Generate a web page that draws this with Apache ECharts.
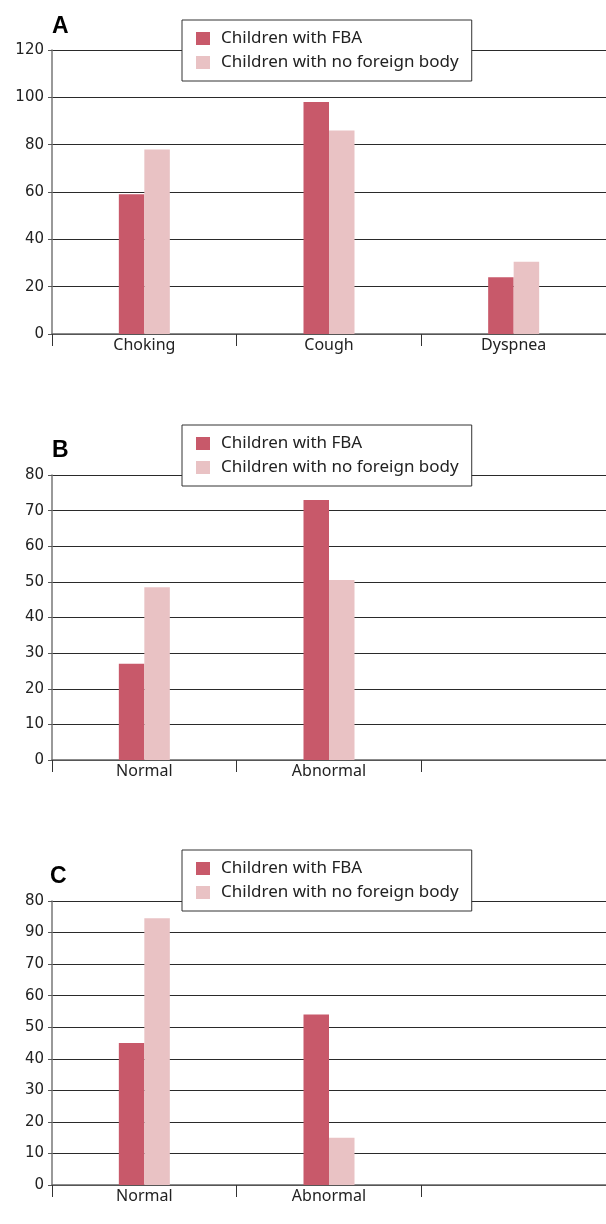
<!DOCTYPE html>
<html>
<head>
<meta charset="utf-8">
<script src="https://cdn.jsdelivr.net/npm/echarts@6/dist/echarts.min.js"></script>
<style>
html,body{margin:0;padding:0;background:#fff;}
#chart{width:606px;height:1224px;}
</style>
</head>
<body>
<div id="chart"></div>
<script>
// ---- Data ----
const seriesNames = ['Children with FBA', 'Children with no foreign body'];
const panelTitles = ['A', 'B', 'C'];

const categoriesA = ['Choking', 'Cough', 'Dyspnea'];
const fbaA = [59, 98, 24];
const noFbA = [78, 86, 30.5];
const tickLabelsA = ['0', '20', '40', '60', '80', '100', '120'];

const categoriesB = ['Normal', 'Abnormal', ''];
const fbaB = [27, 73, null];
const noFbB = [48.5, 50.5, null];
const tickLabelsB = ['0', '10', '20', '30', '40', '50', '60', '70', '80'];

const categoriesC = ['Normal', 'Abnormal', ''];
const fbaC = [45, 54, null];
const noFbC = [84.5, 15, null];
const tickLabelsC = ['0', '10', '20', '30', '40', '50', '60', '70', '90', '80'];

// ---- Styling / layout ----
const colFBA = '#C8596A';
const colNo = '#E9C2C4';

const panels = [
  {cats: categoriesA, fba: fbaA, no: noFbA, ticks: tickLabelsA, max: 120, interval: 20, top: 50, height: 284, legendTop: 20, legendLeft: 182, titleY: 27},
  {cats: categoriesB, fba: fbaB, no: noFbB, ticks: tickLabelsB, max: 80, interval: 10, top: 475, height: 285, legendTop: 425, legendLeft: 182, titleY: 451},
  {cats: categoriesC, fba: fbaC, no: noFbC, ticks: tickLabelsC, max: 90, interval: 10, top: 901, height: 284, legendTop: 850, legendLeft: 182, titleY: 877}
];

const grid = [], xAxis = [], yAxis = [], series = [], legend = [], graphic = [];
panels.forEach((p, i) => {
  grid.push({left: 52, right: 0, top: p.top, height: p.height, containLabel: false});
  xAxis.push({
    type: 'category', gridIndex: i, data: p.cats,
    axisLine: {lineStyle: {color: '#666', width: 1.5}},
    axisTick: {show: true, length: 12, alignWithLabel: false, lineStyle: {color: '#333', width: 1}},
    axisLabel: {fontFamily: 'Noto Sans', fontSize: 16, color: '#222', margin: 3, interval: 0}
  });
  yAxis.push({
    type: 'value', gridIndex: i, min: 0, max: p.max, interval: p.interval,
    axisLine: {show: true, lineStyle: {color: '#777', width: 1.5}},
    axisTick: {show: true, length: 4, lineStyle: {color: '#555'}},
    splitLine: {show: true, lineStyle: {color: '#2a2a2a', width: 1}},
    axisLabel: {
      fontFamily: 'DejaVu Sans', fontSize: 15, color: '#222', margin: 8,
      formatter: (v) => p.ticks[Math.round(v / p.interval)]
    }
  });
  series.push({
    name: seriesNames[0], type: 'bar', xAxisIndex: i, yAxisIndex: i,
    data: p.fba, barWidth: 25.5, barGap: '0%', itemStyle: {color: colFBA}
  });
  series.push({
    name: seriesNames[1], type: 'bar', xAxisIndex: i, yAxisIndex: i,
    data: p.no, barWidth: 25.5, barGap: '0%', itemStyle: {color: colNo}
  });
  legend.push({
    orient: 'vertical', left: p.legendLeft, top: p.legendTop,
    padding: [9.5, 13, 9.5, 14],
    itemWidth: 14, itemHeight: 13, itemGap: 6, icon: 'rect',
    borderColor: '#333', borderWidth: 1, backgroundColor: '#fff',
    selectedMode: false, z: 10,
    textStyle: {fontFamily: 'Noto Sans', fontSize: 17, color: '#222', lineHeight: 16, padding: [2, 0, 0, 6]},
    data: seriesNames
  });
  graphic.push({
    type: 'text', left: i === 2 ? 50 : 52, top: p.titleY - 12, z: 20,
    style: {text: panelTitles[i], font: 'bold 23px "Liberation Sans", Arial, sans-serif', fill: '#000'}
  });
});

const chart = echarts.init(document.getElementById('chart'), null, {renderer: 'canvas'});
chart.setOption({
  animation: false,
  backgroundColor: '#fff',
  grid, xAxis, yAxis, series, legend, graphic
});
</script>
</body>
</html>
